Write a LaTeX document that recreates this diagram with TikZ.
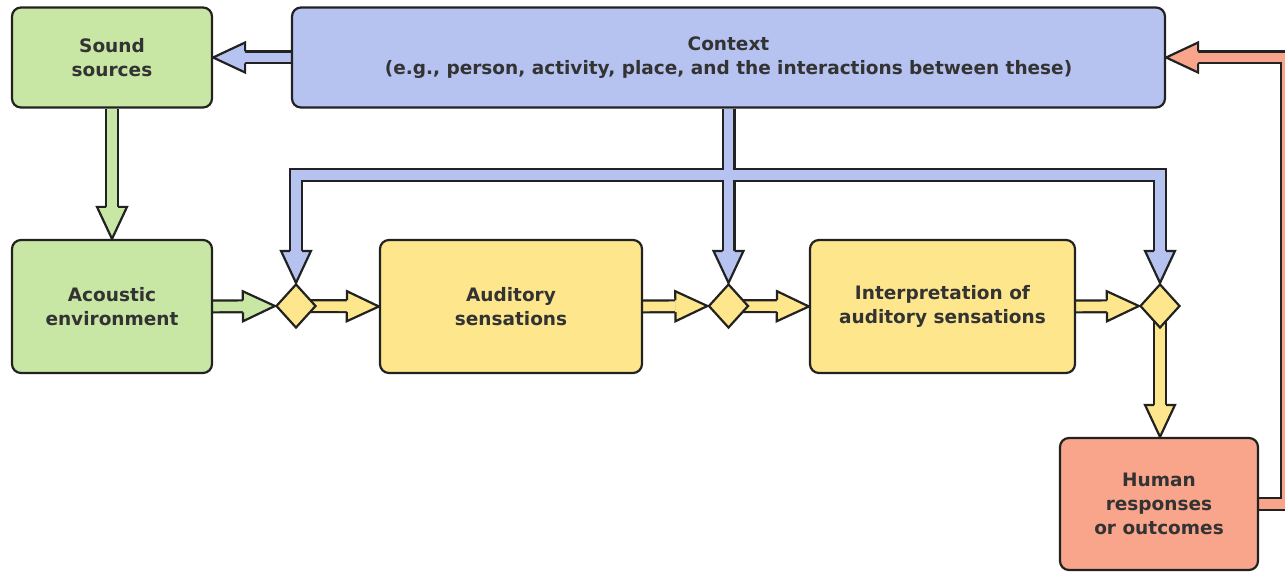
\documentclass[tikz,border=0pt]{standalone}
\usepackage{fontspec}
\setmainfont{DejaVu Sans}
\usetikzlibrary{calc,shapes.geometric}
\definecolor{cgreen}{HTML}{C8E6A4}
\definecolor{cblue}{HTML}{B6C2F0}
\definecolor{cyellow}{HTML}{FDE68C}
\definecolor{corange}{HTML}{F8A58C}
\definecolor{edgec}{HTML}{222222}
\definecolor{txtc}{HTML}{333333}
\pgfdeclarelayer{bg}
\pgfsetlayers{bg,main}
% fat arrow head: #1 point behind on axis, #2 tip, #3 colour
\newcommand\fathead[3]{%
  \coordinate (hbtmp) at ($(#2)!32pt!(#1)$);
  \filldraw[fill=#3, draw=edgec, line width=2.2pt, line join=miter]
    ($(hbtmp)!6pt!90:(#2)$) -- ($(hbtmp)!15pt!90:(#2)$) -- (#2)
    -- ($(hbtmp)!15pt!-90:(#2)$) -- ($(hbtmp)!6pt!-90:(#2)$);
}
\tikzset{
  box/.style={draw=edgec, line width=2.2pt, rounded corners=9pt, align=center,
    font=\bfseries\fontsize{18.5}{24}\selectfont, text=txtc, inner sep=0pt},
  dia/.style={diamond, draw=edgec, line width=2.2pt, fill=cyellow, inner sep=0pt,
    minimum width=40pt, minimum height=44pt},
  shaftout/.style={line width=14pt, draw=edgec, line join=miter, line cap=butt},
  shaftin/.style={line width=9.6pt, line join=miter, line cap=butt},
}
\begin{document}
\begin{tikzpicture}[x=1pt,y=-1pt]
\useasboundingbox (0,0) rectangle (1285,572);
% boxes
\node[box, fill=cgreen, minimum width=200pt, minimum height=100pt] (ss) at (112,57.5) {Sound\\sources};
\node[box, fill=cblue, minimum width=873pt, minimum height=100pt] (ctx) at (728.5,57.5) {Context\\(e.g., person, activity, place, and the interactions between these)};
\node[box, fill=cgreen, minimum width=200pt, minimum height=133pt] (ae) at (112,306.5) {Acoustic\\environment};
\node[box, fill=cyellow, minimum width=262pt, minimum height=133pt] (as) at (511,306.5) {Auditory\\sensations};
\node[box, fill=cyellow, minimum width=265pt, minimum height=133pt] (ip) at (942.5,306.5) {Interpretation of\\auditory sensations};
\node[box, fill=corange, minimum width=198pt, minimum height=132pt] (hr) at (1159,504) {Human\\responses\\or outcomes};
% diamonds
\node[dia] (d1) at (296,306) {};
\node[dia] (d2) at (ctx.south |- 0,306) {};
\node[dia] (d3) at (1160,306) {};
% helper coordinates
\coordinate (barL) at (d1.north |- 0,175);
\coordinate (barR) at (d3.north |- 0,175);
\coordinate (hrtop) at (d3.south |- hr.north);
\coordinate (orA) at (1287,0 |- hr.east);
\coordinate (orB) at (1287,0 |- ctx.east);
% head bases
\coordinate (h1) at ($(ss.east)!32pt!(ctx.west)$);
\coordinate (h2) at ($(ae.north)!32pt!(ss.south)$);
\coordinate (h3) at ($(d1.west)!32pt!(ae.east)$);
\coordinate (h4) at ($(as.west)!32pt!(d1.east)$);
\coordinate (h5) at ($(d2.west)!32pt!(as.east)$);
\coordinate (h6) at ($(ip.west)!32pt!(d2.east)$);
\coordinate (h7) at ($(d3.west)!32pt!(ip.east)$);
\coordinate (h8) at ($(hrtop)!32pt!(d3.south)$);
\coordinate (h9) at ($(d2.north)!32pt!(ctx.south)$);
\coordinate (h10) at ($(d1.north)!32pt!(barL)$);
\coordinate (h11) at ($(d3.north)!32pt!(barR)$);
\coordinate (h12) at ($(ctx.east)!32pt!(orB)$);
\begin{pgfonlayer}{bg}
% outlines
\draw[shaftout] (ctx.west) -- (h1);
\draw[shaftout] (ss.south) -- (h2);
\draw[shaftout] (ae.east) -- (h3);
\draw[shaftout] (d1.center) -- (h4);
\draw[shaftout] (as.east) -- (h5);
\draw[shaftout] (d2.center) -- (h6);
\draw[shaftout] (ip.east) -- (h7);
\draw[shaftout] (d3.center) -- (h8);
\draw[shaftout] (ctx.south) -- (h9);
\draw[shaftout] (h10) -- (barL) -- (barR) -- (h11);
\draw[shaftout] (hr.east) -- (orA) -- (orB) -- (h12);
% fills
\draw[shaftin, cblue] (ctx.west) -- (h1);
\draw[shaftin, cgreen] (ss.south) -- (h2);
\draw[shaftin, cgreen] (ae.east) -- (h3);
\draw[shaftin, cyellow] (d1.center) -- (h4);
\draw[shaftin, cyellow] (as.east) -- (h5);
\draw[shaftin, cyellow] (d2.center) -- (h6);
\draw[shaftin, cyellow] (ip.east) -- (h7);
\draw[shaftin, cyellow] (d3.center) -- (h8);
\draw[shaftin, cblue] (h10) -- (barL) -- (barR) -- (h11);
\draw[shaftin, cblue] (ctx.south) -- (h9);
\draw[shaftin, corange] (hr.east) -- (orA) -- (orB) -- (h12);
% heads
\fathead{ctx.west}{ss.east}{cblue}
\fathead{ss.south}{ae.north}{cgreen}
\fathead{ae.east}{d1.west}{cgreen}
\fathead{d1.east}{as.west}{cyellow}
\fathead{as.east}{d2.west}{cyellow}
\fathead{d2.east}{ip.west}{cyellow}
\fathead{ip.east}{d3.west}{cyellow}
\fathead{d3.south}{hrtop}{cyellow}
\fathead{ctx.south}{d2.north}{cblue}
\fathead{barL}{d1.north}{cblue}
\fathead{barR}{d3.north}{cblue}
\fathead{orB}{ctx.east}{corange}
\end{pgfonlayer}
\end{tikzpicture}
\end{document}
